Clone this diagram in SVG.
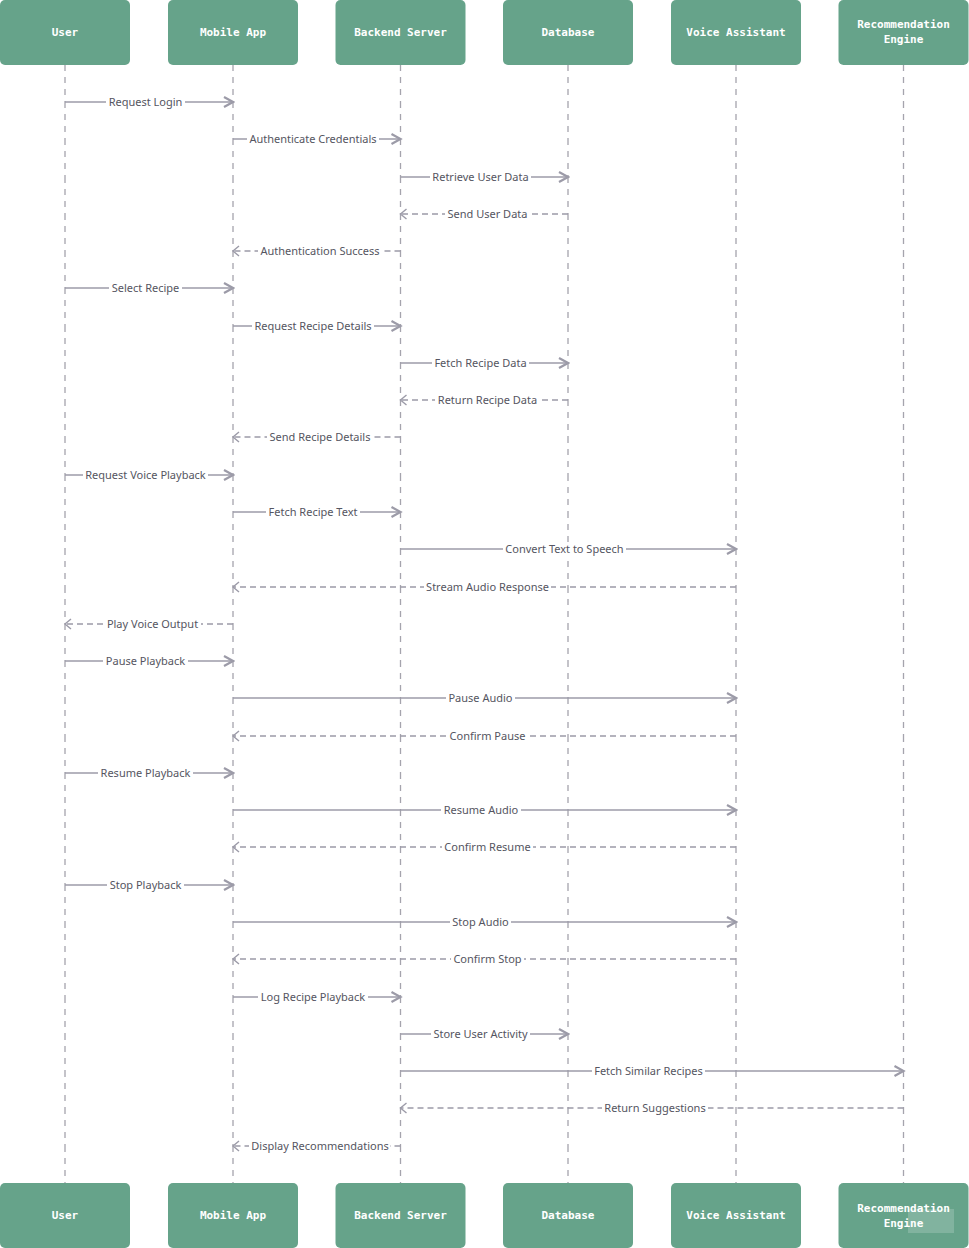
<svg xmlns="http://www.w3.org/2000/svg" width="969" height="1248" viewBox="0 0 969 1248">
<style>
.box{fill:#66a38a;}
.hd{font-family:"DejaVu Sans Mono","Liberation Mono",monospace;font-size:11px;font-weight:bold;fill:#ffffff;text-anchor:middle;}
.life{stroke:#a5a4ad;stroke-width:1.3;fill:none;stroke-dasharray:6 6;}
.msg{stroke:#9c9ba8;stroke-width:1.5;fill:none;}
.ret{stroke:#9c9ba8;stroke-width:1.5;fill:none;stroke-dasharray:6 4;}
.sol{marker-end:url(#ah);}
.dsh{marker-end:url(#oh);}
.lb{font-family:"Noto Sans","Open Sans",sans-serif;font-size:11px;fill:#555561;text-anchor:middle;}
.bg{fill:#ffffff;}
</style>
<defs>
<marker id="ah" viewBox="-12 -7 14 14" refX="0" refY="0" markerWidth="14" markerHeight="14" markerUnits="userSpaceOnUse" orient="auto">
<path d="M-9,-5 L0,0 L-9,5" fill="none" stroke="#9c9ba8" stroke-width="2.2" stroke-linejoin="miter"/>
</marker>
<marker id="oh" viewBox="-12 -7 14 14" refX="0" refY="0" markerWidth="14" markerHeight="14" markerUnits="userSpaceOnUse" orient="auto">
<path d="M-6,-5 L0,0 L-6,5" fill="none" stroke="#9c9ba8" stroke-width="1.4"/>
</marker>
</defs>

<g id="lifelines">
<path class="life" d="M65 65V102M65 102V139M65 139V177M65 177V214M65 214V251M65 251V288M65 288V326M65 326V363M65 363V400M65 400V437M65 437V475M65 475V512M65 512V549M65 549V587M65 587V624M65 624V661M65 661V698M65 698V736M65 736V773M65 773V810M65 810V847M65 847V885M65 885V922M65 922V959M65 959V997M65 997V1034M65 1034V1071M65 1071V1108M65 1108V1146M65 1146V1183"/>
<path class="life" d="M233 65V102M233 102V139M233 139V177M233 177V214M233 214V251M233 251V288M233 288V326M233 326V363M233 363V400M233 400V437M233 437V475M233 475V512M233 512V549M233 549V587M233 587V624M233 624V661M233 661V698M233 698V736M233 736V773M233 773V810M233 810V847M233 847V885M233 885V922M233 922V959M233 959V997M233 997V1034M233 1034V1071M233 1071V1108M233 1108V1146M233 1146V1183"/>
<path class="life" d="M400.5 65V102M400.5 102V139M400.5 139V177M400.5 177V214M400.5 214V251M400.5 251V288M400.5 288V326M400.5 326V363M400.5 363V400M400.5 400V437M400.5 437V475M400.5 475V512M400.5 512V549M400.5 549V587M400.5 587V624M400.5 624V661M400.5 661V698M400.5 698V736M400.5 736V773M400.5 773V810M400.5 810V847M400.5 847V885M400.5 885V922M400.5 922V959M400.5 959V997M400.5 997V1034M400.5 1034V1071M400.5 1071V1108M400.5 1108V1146M400.5 1146V1183"/>
<path class="life" d="M568 65V102M568 102V139M568 139V177M568 177V214M568 214V251M568 251V288M568 288V326M568 326V363M568 363V400M568 400V437M568 437V475M568 475V512M568 512V549M568 549V587M568 587V624M568 624V661M568 661V698M568 698V736M568 736V773M568 773V810M568 810V847M568 847V885M568 885V922M568 922V959M568 959V997M568 997V1034M568 1034V1071M568 1071V1108M568 1108V1146M568 1146V1183"/>
<path class="life" d="M736 65V102M736 102V139M736 139V177M736 177V214M736 214V251M736 251V288M736 288V326M736 326V363M736 363V400M736 400V437M736 437V475M736 475V512M736 512V549M736 549V587M736 587V624M736 624V661M736 661V698M736 698V736M736 736V773M736 773V810M736 810V847M736 847V885M736 885V922M736 922V959M736 959V997M736 997V1034M736 1034V1071M736 1071V1108M736 1108V1146M736 1146V1183"/>
<path class="life" d="M903.5 65V102M903.5 102V139M903.5 139V177M903.5 177V214M903.5 214V251M903.5 251V288M903.5 288V326M903.5 326V363M903.5 363V400M903.5 400V437M903.5 437V475M903.5 475V512M903.5 512V549M903.5 549V587M903.5 587V624M903.5 624V661M903.5 661V698M903.5 698V736M903.5 736V773M903.5 773V810M903.5 810V847M903.5 847V885M903.5 885V922M903.5 922V959M903.5 959V997M903.5 997V1034M903.5 1034V1071M903.5 1071V1108M903.5 1108V1146M903.5 1146V1183"/>
</g>

<g id="connectors">
<line class="msg sol" x1="65" y1="102" x2="233" y2="102"/>
<line class="msg sol" x1="233" y1="139" x2="400.5" y2="139"/>
<line class="msg sol" x1="400.5" y1="177" x2="568" y2="177"/>
<line class="ret dsh" x1="568" y1="214" x2="400.5" y2="214"/>
<line class="ret dsh" x1="400.5" y1="251" x2="233" y2="251"/>
<line class="msg sol" x1="65" y1="288" x2="233" y2="288"/>
<line class="msg sol" x1="233" y1="326" x2="400.5" y2="326"/>
<line class="msg sol" x1="400.5" y1="363" x2="568" y2="363"/>
<line class="ret dsh" x1="568" y1="400" x2="400.5" y2="400"/>
<line class="ret dsh" x1="400.5" y1="437" x2="233" y2="437"/>
<line class="msg sol" x1="65" y1="475" x2="233" y2="475"/>
<line class="msg sol" x1="233" y1="512" x2="400.5" y2="512"/>
<line class="msg sol" x1="400.5" y1="549" x2="736" y2="549"/>
<line class="ret dsh" x1="736" y1="587" x2="233" y2="587"/>
<line class="ret dsh" x1="233" y1="624" x2="65" y2="624"/>
<line class="msg sol" x1="65" y1="661" x2="233" y2="661"/>
<line class="msg sol" x1="233" y1="698" x2="736" y2="698"/>
<line class="ret dsh" x1="736" y1="736" x2="233" y2="736"/>
<line class="msg sol" x1="65" y1="773" x2="233" y2="773"/>
<line class="msg sol" x1="233" y1="810" x2="736" y2="810"/>
<line class="ret dsh" x1="736" y1="847" x2="233" y2="847"/>
<line class="msg sol" x1="65" y1="885" x2="233" y2="885"/>
<line class="msg sol" x1="233" y1="922" x2="736" y2="922"/>
<line class="ret dsh" x1="736" y1="959" x2="233" y2="959"/>
<line class="msg sol" x1="233" y1="997" x2="400.5" y2="997"/>
<line class="msg sol" x1="400.5" y1="1034" x2="568" y2="1034"/>
<line class="msg sol" x1="400.5" y1="1071" x2="903.5" y2="1071"/>
<line class="ret dsh" x1="903.5" y1="1108" x2="400.5" y2="1108"/>
<line class="ret dsh" x1="400.5" y1="1146" x2="233" y2="1146"/>

<g id="labels">
<rect class="bg" x="106" y="95" width="79" height="14"/><text class="lb" x="145.5" y="106">Request Login</text>
<rect class="bg" x="247" y="132" width="132" height="14"/><text class="lb" x="313" y="143">Authenticate Credentials</text>
<rect class="bg" x="430" y="170" width="101" height="14"/><text class="lb" x="480.5" y="181">Retrieve User Data</text>
<rect class="bg" x="445" y="207" width="85" height="14"/><text class="lb" x="487.5" y="218">Send User Data</text>
<rect class="bg" x="258" y="244" width="124" height="14"/><text class="lb" x="320" y="255">Authentication Success</text>
<rect class="bg" x="109" y="281" width="73" height="14"/><text class="lb" x="145.5" y="292">Select Recipe</text>
<rect class="bg" x="252" y="319" width="122" height="14"/><text class="lb" x="313" y="330">Request Recipe Details</text>
<rect class="bg" x="432" y="356" width="97" height="14"/><text class="lb" x="480.5" y="367">Fetch Recipe Data</text>
<rect class="bg" x="435" y="393" width="105" height="14"/><text class="lb" x="487.5" y="404">Return Recipe Data</text>
<rect class="bg" x="267" y="430" width="106" height="14"/><text class="lb" x="320" y="441">Send Recipe Details</text>
<rect class="bg" x="83" y="468" width="125" height="14"/><text class="lb" x="145.5" y="479">Request Voice Playback</text>
<rect class="bg" x="266" y="505" width="94" height="14"/><text class="lb" x="313" y="516">Fetch Recipe Text</text>
<rect class="bg" x="503" y="542" width="123" height="14"/><text class="lb" x="564.5" y="553">Convert Text to Speech</text>
<rect class="bg" x="424" y="580" width="127" height="14"/><text class="lb" x="487.5" y="591">Stream Audio Response</text>
<rect class="bg" x="104" y="617" width="97" height="14"/><text class="lb" x="152.5" y="628">Play Voice Output</text>
<rect class="bg" x="103" y="654" width="85" height="14"/><text class="lb" x="145.5" y="665">Pause Playback</text>
<rect class="bg" x="446" y="691" width="69" height="14"/><text class="lb" x="480.5" y="702">Pause Audio</text>
<rect class="bg" x="447" y="729" width="81" height="14"/><text class="lb" x="487.5" y="740">Confirm Pause</text>
<rect class="bg" x="98" y="766" width="95" height="14"/><text class="lb" x="145.5" y="777">Resume Playback</text>
<rect class="bg" x="441" y="803" width="80" height="14"/><text class="lb" x="481" y="814">Resume Audio</text>
<rect class="bg" x="442" y="840" width="91" height="14"/><text class="lb" x="487.5" y="851">Confirm Resume</text>
<rect class="bg" x="107" y="878" width="77" height="14"/><text class="lb" x="145.5" y="889">Stop Playback</text>
<rect class="bg" x="450" y="915" width="61" height="14"/><text class="lb" x="480.5" y="926">Stop Audio</text>
<rect class="bg" x="451" y="952" width="73" height="14"/><text class="lb" x="487.5" y="963">Confirm Stop</text>
<rect class="bg" x="258" y="990" width="110" height="14"/><text class="lb" x="313" y="1001">Log Recipe Playback</text>
<rect class="bg" x="431" y="1027" width="99" height="14"/><text class="lb" x="480.5" y="1038">Store User Activity</text>
<rect class="bg" x="592" y="1064" width="113" height="14"/><text class="lb" x="648.5" y="1075">Fetch Similar Recipes</text>
<rect class="bg" x="602" y="1101" width="106" height="14"/><text class="lb" x="655" y="1112">Return Suggestions</text>
<rect class="bg" x="249" y="1139" width="141" height="14"/><text class="lb" x="320" y="1150">Display Recommendations</text>
</g>
</g>

<g id="user-top"><rect class="box" x="0" y="0" width="130" height="65" rx="5"/><text class="hd" x="65" y="36">User</text></g>
<g id="mobile-top"><rect class="box" x="168" y="0" width="130" height="65" rx="5"/><text class="hd" x="233" y="36">Mobile App</text></g>
<g id="backend-top"><rect class="box" x="335.5" y="0" width="130" height="65" rx="5"/><text class="hd" x="400.5" y="36">Backend Server</text></g>
<g id="database-top"><rect class="box" x="503" y="0" width="130" height="65" rx="5"/><text class="hd" x="568" y="36">Database</text></g>
<g id="voice-top"><rect class="box" x="671" y="0" width="130" height="65" rx="5"/><text class="hd" x="736" y="36">Voice Assistant</text></g>
<g id="rec-top"><rect class="box" x="838.5" y="0" width="130" height="65" rx="5"/><text class="hd" x="903.5" y="28">Recommendation</text><text class="hd" x="903.5" y="43">Engine</text></g>

<g id="user-bottom"><rect class="box" x="0" y="1183" width="130" height="65" rx="5"/><text class="hd" x="65" y="1219">User</text></g>
<g id="mobile-bottom"><rect class="box" x="168" y="1183" width="130" height="65" rx="5"/><text class="hd" x="233" y="1219">Mobile App</text></g>
<g id="backend-bottom"><rect class="box" x="335.5" y="1183" width="130" height="65" rx="5"/><text class="hd" x="400.5" y="1219">Backend Server</text></g>
<g id="database-bottom"><rect class="box" x="503" y="1183" width="130" height="65" rx="5"/><text class="hd" x="568" y="1219">Database</text></g>
<g id="voice-bottom"><rect class="box" x="671" y="1183" width="130" height="65" rx="5"/><text class="hd" x="736" y="1219">Voice Assistant</text></g>
<g id="rec-bottom"><rect class="box" x="838.5" y="1183" width="130" height="65" rx="5"/><text class="hd" x="903.5" y="1212">Recommendation</text><text class="hd" x="903.5" y="1227">Engine</text><rect x="908" y="1209" width="46" height="24" fill="#ffffff" fill-opacity="0.18"/></g>
</svg>
